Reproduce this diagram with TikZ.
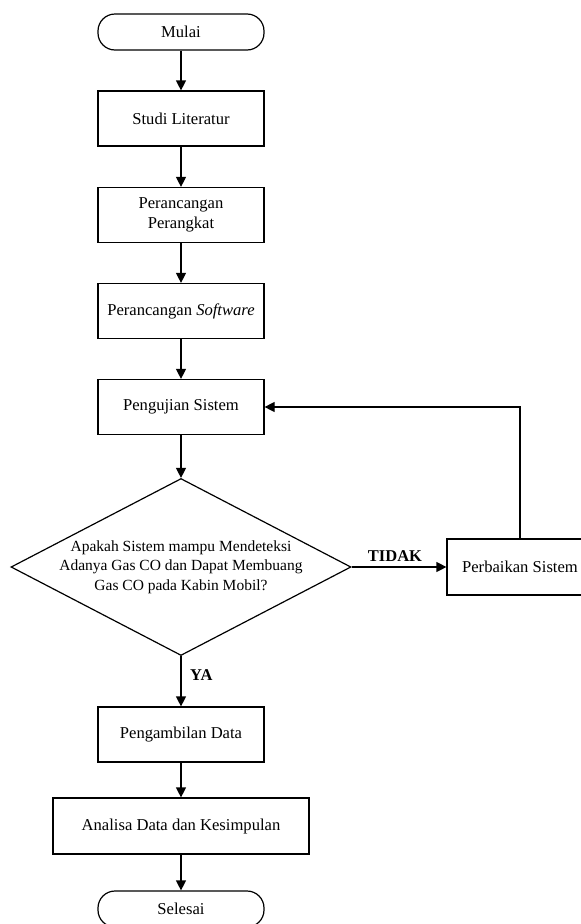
\documentclass[tikz,border=0pt]{standalone}
\usepackage{fontspec}
\setmainfont{Liberation Serif}
\usetikzlibrary{shapes.geometric,arrows.meta}
\begin{document}
\begin{tikzpicture}[x=1pt,y=-1pt,
  box/.style={draw,line width=1.2pt,minimum width=166pt,minimum height=55pt,align=center,inner sep=0pt,font=\fontsize{16.6}{20}\selectfont},
  term/.style={draw,line width=1.2pt,rounded corners=17pt,minimum width=166pt,minimum height=36pt,inner sep=0pt,font=\fontsize{16.6}{20}\selectfont},
  decision/.style={draw,line width=1.2pt,diamond,minimum width=340pt,minimum height=177pt,inner sep=0pt},
  dectext/.style={align=center,inner sep=0pt,font=\fontsize{15.5}{19.5}\selectfont},
  flow/.style={line width=1.2pt,-{Triangle[length=10pt,width=10pt]}},
  lbl/.style={inner sep=0pt,font=\fontsize{16.5}{20}\selectfont\bfseries}]
\clip (0,0) rectangle (581,924);
\node[term] (mulai) at (181,32) {Mulai};
\node[box] (studi) at (181,118.5) {Studi Literatur};
\node[box] (perangkat) at (181,215) {Perancangan\\Perangkat};
\node[box] (software) at (181,311) {Perancangan \textit{Software}};
\node[box] (uji) at (181,407) {Pengujian Sistem};
\node[decision] (dec) at (181,567) {};
\node[dectext] (dectxt) at (181,567) {Apakah Sistem mampu Mendeteksi\\Adanya Gas CO dan Dapat Membuang\\Gas CO pada Kabin Mobil?};
\node[box,minimum width=146pt,minimum height=56pt] (perb) at (520,567) {Perbaikan Sistem};
\node[box] (ambil) at (181,734.5) {Pengambilan Data};
\node[box,minimum width=256pt,minimum height=56pt] (analisa) at (181,826) {Analisa Data dan Kesimpulan};
\node[term] (selesai) at (181,909) {Selesai};
\node[lbl] (tidak) at (395,556) {TIDAK};
\node[lbl,anchor=west] (ya) at (190,675) {YA};
\draw[flow] (mulai) -- (studi);
\draw[flow] (studi) -- (perangkat);
\draw[flow] (perangkat) -- (software);
\draw[flow] (software) -- (uji);
\draw[flow] (uji) -- (dec.north);
\draw[flow] (dec.east) -- (perb.west);
\draw[flow] (perb.north) |- (uji.east);
\draw[flow] (dec.south) -- (ambil);
\draw[flow] (ambil) -- (analisa);
\draw[flow] (analisa) -- (selesai);
\end{tikzpicture}
\end{document}
